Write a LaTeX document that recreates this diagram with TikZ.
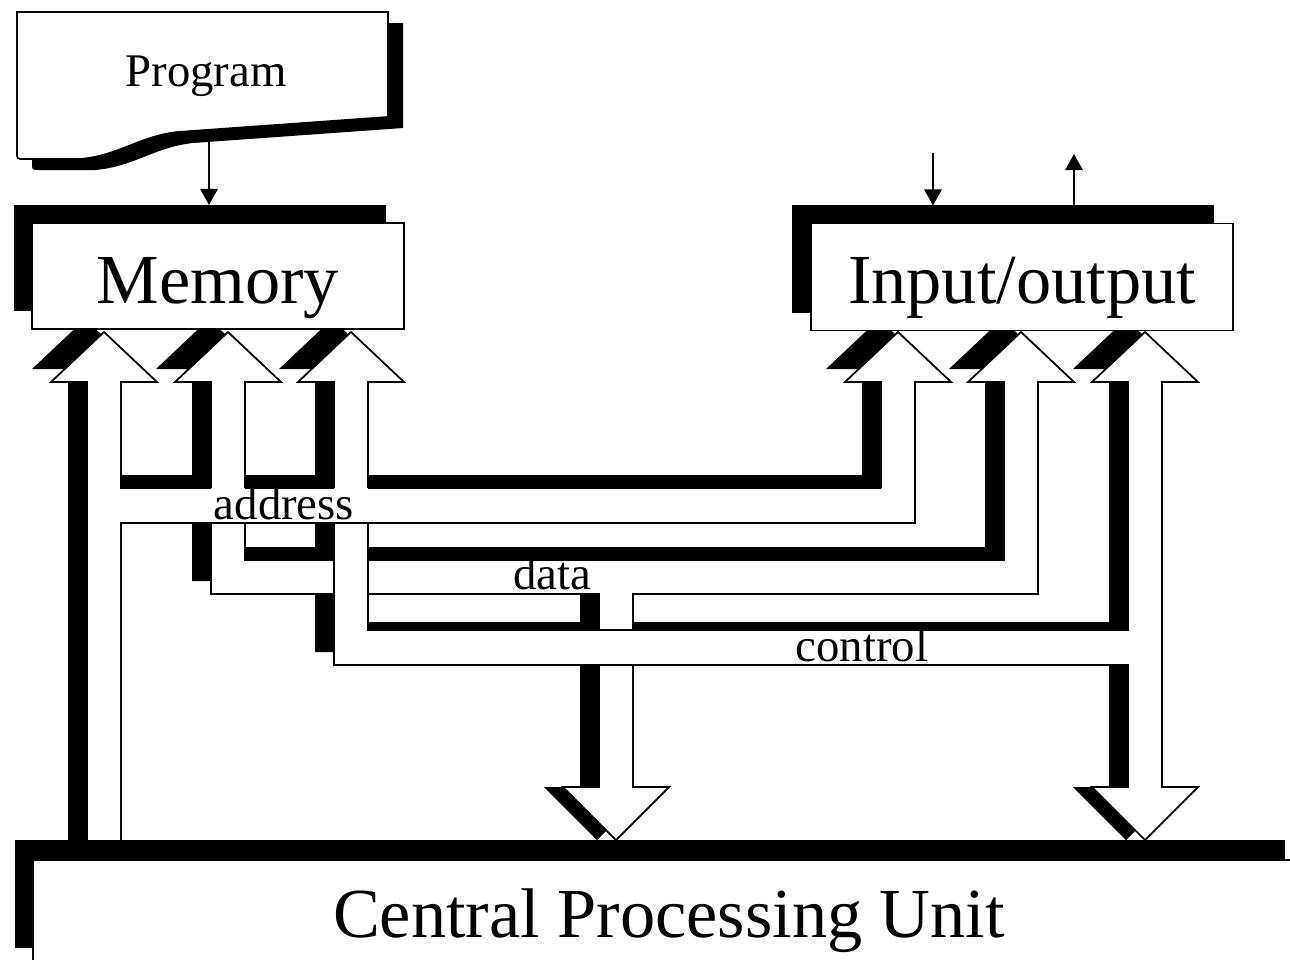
\documentclass[tikz,border=0pt]{standalone}
\usepackage{fontspec}
\setmainfont{Liberation Serif}
\usetikzlibrary{arrows.meta}

\tikzset{
	bus/.style={fill=white, draw=black, line width=0.5pt, line join=miter},
	bus edge/.style={draw=black, line width=0.5pt, line join=miter},
	bus shadow/.style={fill=black},
	box/.style={draw=black, fill=white, line width=0.5pt, inner sep=0pt, outer sep=0pt},
	boxshadow/.style={fill=black, inner sep=0pt, outer sep=0pt},
	small text/.style={font=\fontsize{13.3}{16}\selectfont, inner sep=0pt},
	big text/.style={font=\fontsize{20}{24}\selectfont, inner sep=0pt},
	flow/.style={line width=0.5pt, -{Triangle[length=4.6pt,width=5pt]}}
}

\begin{document}
\begin{tikzpicture}[x=0.01cm, y=-0.01cm]
		\useasboundingbox (0,0) rectangle (1290,960);
		\clip (0,0) rectangle (1290,960);
%		\draw[help lines,step=100] (0,0) grid (1290,960);
		\path (209,140) coordinate (prog_foot);
		\path (933,153) coordinate (io_in);
		\path (1074,154) coordinate (io_out);

		% shadows of the three buses
		\fill[bus shadow] (85,319) -- (138,369) -- (102,369) -- (102,475) -- (862,475) -- (862,369) -- (826,369) -- (879,319) -- (932,369) -- (896,369) -- (896,510) -- (102,510) -- (102,860) -- (68,860) -- (68,369) -- (32,369) -- cycle;
		\fill[bus shadow] (209,319) -- (262,369) -- (226,369) -- (226,547) -- (985,547) -- (985,369) -- (949,369) -- (1002,319) -- (1055,369) -- (1019,369) -- (1019,581) -- (614,581) -- (614,787) -- (650,787) -- (597,840) -- (544,787) -- (580,787) -- (580,581) -- (192,581) -- (192,369) -- (156,369) -- cycle;
		\fill[bus shadow] (332,319) -- (385,369) -- (349,369) -- (349,622) -- (1109,622) -- (1109,369) -- (1073,369) -- (1126,319) -- (1179,369) -- (1143,369) -- (1143,787) -- (1179,787) -- (1126,840) -- (1073,787) -- (1109,787) -- (1109,652) -- (315,652) -- (315,369) -- (279,369) -- cycle;

		% data, control, then address on top
		\draw[bus] (228,332) -- (281,382) -- (245,382) -- (245,560) -- (1004,560) -- (1004,382) -- (968,382) -- (1021,332) -- (1074,382) -- (1038,382) -- (1038,594) -- (633,594) -- (633,787) -- (669,787) -- (616,840) -- (563,787) -- (599,787) -- (599,594) -- (211,594) -- (211,382) -- (175,382) -- cycle;
		\draw[bus] (351,332) -- (404,382) -- (368,382) -- (368,630) -- (1128,630) -- (1128,382) -- (1092,382) -- (1145,332) -- (1198,382) -- (1162,382) -- (1162,787) -- (1198,787) -- (1145,840) -- (1092,787) -- (1128,787) -- (1128,665) -- (334,665) -- (334,382) -- (298,382) -- cycle;
		\fill[white] (104,332) -- (157,382) -- (121,382) -- (121,488) -- (881,488) -- (881,382) -- (845,382) -- (898,332) -- (951,382) -- (915,382) -- (915,523) -- (121,523) -- (121,860) -- (87,860) -- (87,382) -- (51,382) -- cycle;
		\draw[bus edge] (881,488) -- (881,382) -- (845,382) -- (898,332) -- (951,382) -- (915,382) -- (915,523) -- (121,523) -- (121,860) -- (87,860) -- (87,382) -- (51,382) -- (104,332) -- (157,382) -- (121,382) -- (121,488) -- (211,488);
		\draw[bus edge] (245,488) -- (334,488);
		\draw[bus edge] (368,488) -- (881,488);

		\node[small text, anchor=base] (addr_lbl) at (284,519) {address};
		\node[small text, anchor=base] (data_lbl) at (552,589) {data};
		\node[small text, anchor=base] (ctrl_lbl) at (862,661) {control};

		% boxes
		\node[boxshadow, minimum width=3.72cm, minimum height=1.06cm] (mem_shadow) at (200,258) {};
		\node[box, minimum width=3.72cm, minimum height=1.06cm] (mem) at (218,276) {};
		\node[big text, anchor=base] (mem_lbl) at (218,303) {Memory};

		\node[boxshadow, minimum width=4.22cm, minimum height=1.07cm] (io_shadow) at (1003,259) {};
		\node[box, minimum width=4.22cm, minimum height=1.07cm] (io) at (1022,277) {};
		\node[big text, anchor=base] (io_lbl) at (1022,303) {Input/output};

		\node[boxshadow, minimum width=12.7cm, minimum height=1.08cm] (cpu_shadow) at (650,894) {};
		\node[box, minimum width=12.7cm, minimum height=1.08cm] (cpu) at (668,914) {};
		\node[big text, anchor=base] (cpu_lbl) at (669,937) {Central Processing Unit};

		\fill[shift={(15,11)}] (17,12) -- (388,12) -- (388,117) -- (178,132) .. controls (140,136) and (118,156) .. (80,159) -- (24,159) .. controls (17,159) .. (17,152) -- cycle;
		\draw[bus] (17,12) -- (388,12) -- (388,117) -- (178,132) .. controls (140,136) and (118,156) .. (80,159) -- (24,159) .. controls (17,159) .. (17,152) -- cycle;
		\node[small text, anchor=base] (prog) at (206,86) {Program};

		\draw[flow] (prog_foot) -- (prog_foot |- mem_shadow.north);
		\draw[flow] (io_in) -- (io_in |- io_shadow.north);
		\draw[flow] (io_out |- io_shadow.north) -- (io_out);
	\end{tikzpicture}
\end{document}
